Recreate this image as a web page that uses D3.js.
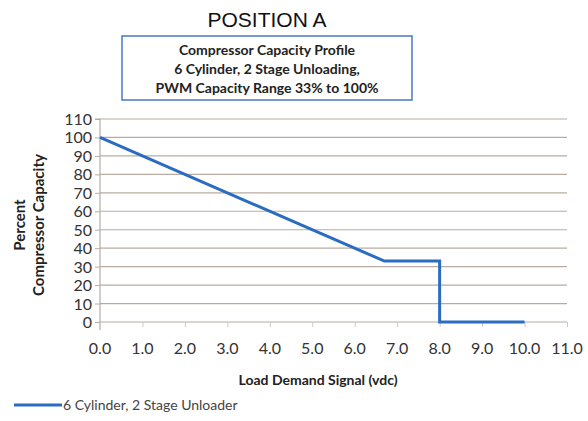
<!DOCTYPE html>
<html>
<head>
<meta charset="utf-8">
<script src="https://cdn.jsdelivr.net/npm/d3@7"></script>
<style>
  html, body { margin: 0; padding: 0; background: #fff; }
  svg { display: block; }
  text { font-family: Lato, "Open Sans", sans-serif; }
</style>
</head>
<body>
<div id="chart"></div>
<script>
// data
const voltage = [0, 6.7, 8.0, 8.0, 10.0];
const capacity = [100, 33, 33, 0, 0];
const xTicks = [0, 1, 2, 3, 4, 5, 6, 7, 8, 9, 10, 11];
const yTicks = [0, 10, 20, 30, 40, 50, 60, 70, 80, 90, 100, 110];
const titleLines = ["Compressor Capacity  Profile", "6 Cylinder, 2 Stage Unloading,", "PWM Capacity Range 33% to 100%"];
const seriesName = "6 Cylinder, 2 Stage Unloader";

const width = 588, height = 421;
const margin = {top: 119, right: 21, bottom: 99, left: 100};
const innerWidth = width - margin.left - margin.right;
const innerHeight = height - margin.top - margin.bottom;

const svg = d3.select("#chart").append("svg")
  .attr("width", width)
  .attr("height", height);

const g = svg.append("g")
  .attr("transform", `translate(${margin.left},${margin.top})`);

const xScale = d3.scaleLinear().domain([0, 11]).range([0, innerWidth]);
const yScale = d3.scaleLinear().domain([0, 110]).range([innerHeight, 0]);

// horizontal grid
g.selectAll(".grid")
  .data(yTicks)
  .enter().append("line")
  .attr("class", "grid")
  .attr("x1", 0).attr("x2", innerWidth)
  .attr("y1", d => yScale(d)).attr("y2", d => yScale(d))
  .attr("stroke", "#b8aca2")
  .attr("stroke-width", 1.2);

// y axis (tick marks from d3, labels drawn below)
const yAxis = d3.axisLeft(yScale).tickValues(yTicks).tickSize(5).tickFormat("");
const gY = g.append("g").call(yAxis);
gY.select(".domain").attr("stroke", "#b8aca2").attr("stroke-width", 1.2)
  .attr("d", `M-5,0H0V${innerHeight + 8}`);
gY.selectAll(".tick line").attr("stroke", "#b8aca2");

g.selectAll(".ylab")
  .data(yTicks)
  .enter().append("text")
  .attr("class", "ylab")
  .attr("x", -8)
  .attr("y", d => yScale(d) + 6)
  .attr("text-anchor", "end")
  .attr("font-size", 16)
  .attr("fill", "#333")
  .text(d => d);

// x axis
const xAxis = d3.axisBottom(xScale).tickValues(xTicks).tickSize(5).tickFormat("");
const gX = g.append("g").attr("transform", `translate(0,${innerHeight})`).call(xAxis);
gX.select(".domain").remove();
gX.selectAll(".tick line").attr("stroke", "#d0c8c0");

g.selectAll(".xlab")
  .data(xTicks)
  .enter().append("text")
  .attr("class", "xlab")
  .attr("x", d => xScale(d))
  .attr("y", innerHeight + 32)
  .attr("text-anchor", "middle")
  .attr("font-size", 16)
  .attr("fill", "#333")
  .text(d => d3.format(".1f")(d));

// series line
const line = d3.line()
  .x((d, i) => xScale(voltage[i]))
  .y(d => yScale(d));
g.append("path")
  .datum(capacity)
  .attr("fill", "none")
  .attr("stroke", "#2a6cc0")
  .attr("stroke-width", 3)
  .attr("d", line);

// title
svg.append("text")
  .attr("x", 267).attr("y", 27)
  .attr("text-anchor", "middle")
  .style("font-family", "'Liberation Sans', Arial, sans-serif")
  .attr("font-size", 21)
  .attr("fill", "#111")
  .text("POSITION A");

svg.append("rect")
  .attr("x", 122).attr("y", 36)
  .attr("width", 290).attr("height", 64)
  .attr("fill", "#fff")
  .attr("stroke", "#4a78c8")
  .attr("stroke-width", 1.5);

svg.selectAll(".subtitle")
  .data(titleLines)
  .enter().append("text")
  .attr("class", "subtitle")
  .attr("x", 267)
  .attr("y", (d, i) => 55 + i * 19)
  .attr("text-anchor", "middle")
  .attr("font-size", 14)
  .attr("font-weight", "bold")
  .attr("fill", "#222")
  .text(d => d);

// axis titles
const yLabel = svg.append("text")
  .attr("transform", "translate(25,225) rotate(-90)")
  .attr("text-anchor", "middle")
  .attr("font-size", 15)
  .attr("font-weight", "bold")
  .attr("fill", "#222");
yLabel.append("tspan").attr("x", 0).attr("dy", 0).text("Percent");
yLabel.append("tspan").attr("x", 0).attr("dy", 19).text("Compressor Capacity");

svg.append("text")
  .attr("x", 318).attr("y", 385)
  .attr("text-anchor", "middle")
  .attr("font-size", 14)
  .attr("font-weight", "bold")
  .attr("fill", "#222")
  .text("Load Demand Signal (vdc)");

// legend
svg.append("line")
  .attr("x1", 14).attr("x2", 62)
  .attr("y1", 405).attr("y2", 405)
  .attr("stroke", "#2a6cc0")
  .attr("stroke-width", 3);
svg.append("text")
  .attr("x", 63).attr("y", 410)
  .attr("font-size", 14)
  .attr("fill", "#444")
  .text(seriesName);
</script>
</body>
</html>
